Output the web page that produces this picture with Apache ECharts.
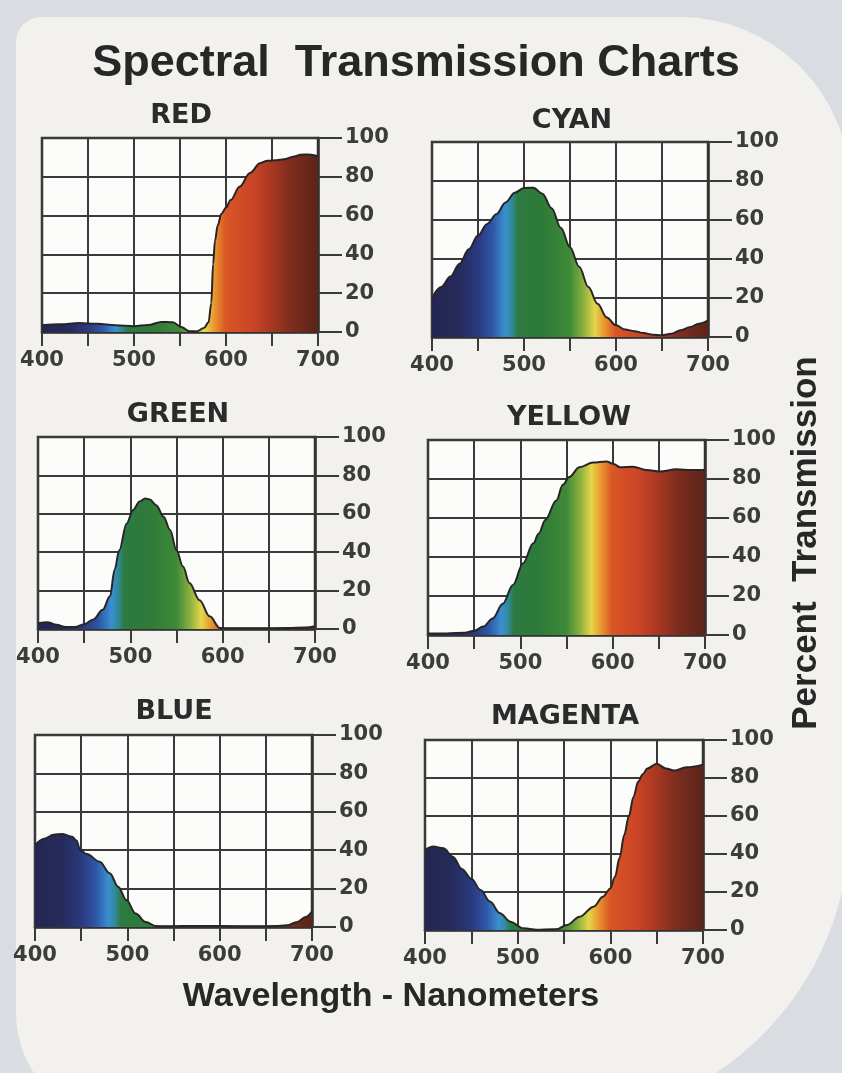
<!DOCTYPE html>
<html>
<head>
<meta charset="utf-8">
<script src="https://cdn.jsdelivr.net/npm/echarts@6/dist/echarts.min.js"></script>
<style>
  html, body { margin: 0; padding: 0; background: #d9dce0; }
  #chart { width: 842px; height: 1073px; }
</style>
</head>
<body>
<div id="chart"></div>
<script>
// ---- Tick labels ----
const wavelengthLabels = [400, 500, 600, 700];
const percentLabels = [0, 20, 40, 60, 80, 100];

// ---- Filter names ----
const filterNames = ['RED', 'CYAN', 'GREEN', 'YELLOW', 'BLUE', 'MAGENTA'];

// ---- Transmission curves: wavelength (nm) and percent transmission ----
const redNm  = [400, 420, 440, 460, 480, 500, 515, 530, 542, 552, 560, 568, 576, 581, 584, 586, 588, 591, 595, 600, 605, 615, 626, 637, 645, 655, 663, 674, 681, 690, 700];
const redPct = [3.5, 4, 4.6, 4.2, 3.5, 3, 3.6, 5.2, 5, 2.5, 0.4, 0.3, 2, 5, 15, 35, 47, 55, 61, 64, 68, 75, 82, 87, 88.3, 88.5, 89, 90.5, 91.4, 91.5, 90.5];

const cyanNm  = [400, 410, 420, 430, 440, 450, 460, 470, 480, 490, 500, 510, 520, 530, 540, 550, 560, 570, 580, 590, 600, 610, 620, 630, 640, 650, 660, 670, 680, 690, 700];
const cyanPct = [20, 25.6, 31, 37.6, 45, 52, 58, 63, 69, 74, 76.4, 76.6, 73.5, 66, 56, 46, 36, 25.6, 17, 10, 6, 3.8, 3, 2, 1.2, 0.9, 1.7, 3.4, 5, 6.8, 8.5];

const greenNm  = [400, 410, 420, 430, 440, 450, 460, 470, 478, 483, 488, 496, 503, 510, 516, 521, 528, 536, 543, 550, 557, 564, 575, 586, 597, 610, 640, 670, 690, 700];
const greenPct = [3, 3.5, 2.2, 1, 1, 2.5, 5, 10, 17, 31, 41, 55, 62, 66.4, 68, 67.5, 64.5, 58.5, 51.6, 41, 32.5, 24, 15, 6.6, 0.5, 0.4, 0.4, 0.5, 0.8, 1.5];

const yellowNm  = [400, 420, 440, 450, 460, 470, 481, 492, 503, 514, 520, 527, 539, 546, 553, 564, 579, 593, 601, 608, 622, 637, 651, 669, 685, 700];
const yellowPct = [0.8, 0.8, 1.2, 2.2, 4.3, 8.5, 16, 25.6, 36.8, 47, 52, 59, 69, 77, 81, 86, 88.4, 89, 87.7, 86, 86.3, 84.6, 83.8, 85, 84.6, 84.6];

const blueNm  = [400, 410, 420, 430, 440, 445, 449, 456, 470, 481, 490, 499, 509, 520, 531, 540, 560, 600, 640, 660, 673, 684, 693, 700];
const bluePct = [42.6, 46, 48, 48.5, 47, 45, 40, 38, 34, 28, 21, 14, 7, 2.6, 0.5, 0.4, 0.5, 0.5, 0.4, 0.5, 0.9, 2.6, 5.2, 8];

const magentaNm  = [400, 409, 420, 430, 440, 450, 460, 470, 481, 492, 506, 524, 542, 553, 567, 582, 592, 600, 605, 610, 615, 620, 625, 630, 635, 640, 650, 660, 669, 682, 700];
const magentaPct = [42, 43.9, 43, 38.6, 32, 27, 21, 15, 8.8, 4.4, 0.9, 0, 0.4, 2.6, 7, 12.3, 17.5, 21.9, 28, 38, 50, 60, 70, 78, 82, 85, 87.5, 85, 83.9, 85.6, 87];

const curves = [
  [redNm, redPct], [cyanNm, cyanPct], [greenNm, greenPct],
  [yellowNm, yellowPct], [blueNm, bluePct], [magentaNm, magentaPct]
];

// ---- Panel placement (plot rectangles and heading positions) ----
const panelBoxes = [
  { left: 42,  top: 138, width: 276, height: 194, tx: 181, ty: 116 },
  { left: 432, top: 142, width: 276, height: 195, tx: 572, ty: 121 },
  { left: 38,  top: 437, width: 277, height: 192, tx: 178, ty: 415 },
  { left: 428, top: 440, width: 277, height: 195, tx: 569, ty: 418 },
  { left: 35,  top: 735, width: 277, height: 192, tx: 174, ty: 712 },
  { left: 425, top: 740, width: 278, height: 190, tx: 565, ty: 717 }
];

// Visible-spectrum fill, mapped left (400 nm) to right (700 nm)
const spectrum = [
  [0.00, '#23264f'], [0.10, '#262b5c'], [0.17, '#2a3a80'], [0.22, '#2f56a8'],
  [0.265, '#3b8fd0'], [0.29, '#2f8a98'], [0.31, '#2d7a42'], [0.40, '#2e7a38'],
  [0.50, '#3f8a38'], [0.55, '#8db040'], [0.59, '#e6d64a'], [0.625, '#e8962f'],
  [0.665, '#d95625'], [0.76, '#cc4426'], [0.83, '#a93822'], [0.90, '#7f2d1f'],
  [1.00, '#5a2418']
];

const chart = echarts.init(document.getElementById('chart'), null, { renderer: 'canvas' });

const gridLine = '#3a3a3a';
const tickText = { color: '#3c3c3c', fontFamily: 'DejaVu Sans', fontWeight: 'bold', fontSize: 21 };

const grids = [], xAxes = [], yAxes = [], series = [];
panelBoxes.forEach((b, i) => {
  grids.push({
    left: b.left, top: b.top, width: b.width, height: b.height,
    show: true, backgroundColor: '#fcfcfa', borderColor: '#333', borderWidth: 2.5
  });
  xAxes.push({
    type: 'value', gridIndex: i, min: 400, max: 700, interval: 50,
    axisLine: { show: true, lineStyle: { color: '#333', width: 2.5 } },
    axisTick: { show: true, length: 14, lineStyle: { color: gridLine, width: 2 } },
    axisLabel: Object.assign({
      margin: 18,
      customValues: wavelengthLabels,
      formatter: v => (wavelengthLabels.indexOf(v) >= 0 ? String(v) : '')
    }, tickText),
    splitLine: { show: true, lineStyle: { color: gridLine, width: 2 } }
  });
  yAxes.push({
    type: 'value', gridIndex: i, position: 'right', min: 0, max: 100, interval: 20,
    axisLine: { show: true, lineStyle: { color: '#333', width: 2.5 } },
    axisTick: { show: true, length: 24, lineStyle: { color: gridLine, width: 2 } },
    axisLabel: Object.assign({ margin: 27, customValues: percentLabels }, tickText),
    splitLine: { show: true, lineStyle: { color: gridLine, width: 2 } }
  });
  const [nm, pct] = curves[i];
  series.push({
    name: filterNames[i], type: 'line', xAxisIndex: i, yAxisIndex: i,
    data: nm.map((w, k) => [w, pct[k]]),
    smooth: 0.35, smoothMonotone: 'x', showSymbol: false, silent: true,
    lineStyle: { color: '#262626', width: 2 },
    areaStyle: {
      opacity: 1,
      color: new echarts.graphic.LinearGradient(0, 0, 1, 0,
        spectrum.map(s => ({ offset: s[0], color: s[1] })))
    }
  });
});

const headings = panelBoxes.map((b, i) => ({
  type: 'text', x: b.tx, y: b.ty, silent: true,
  style: {
    text: filterNames[i], textAlign: 'center', textVerticalAlign: 'middle',
    fill: '#2b2b2b', font: 'bold 27px "DejaVu Sans"'
  }
}));

chart.setOption({
  animation: false,
  backgroundColor: '#d9dce0',
  grid: grids,
  xAxis: xAxes,
  yAxis: yAxes,
  series: series,
  graphic: [
    // card
    {
      type: 'rect', z: -10, silent: true,
      shape: { x: 16, y: 17, width: 834, height: 1106, r: [25, 170, 300, 110] },
      style: { fill: '#f2f1ed' }
    },
    {
      type: 'text', x: 416, y: 64, silent: true,
      style: {
        text: 'Spectral  Transmission Charts', textAlign: 'center', textVerticalAlign: 'middle',
        fill: '#272727', font: 'bold 45px "Liberation Sans"'
      }
    },
    {
      type: 'text', x: 391, y: 997, silent: true,
      style: {
        text: 'Wavelength - Nanometers', textAlign: 'center', textVerticalAlign: 'middle',
        fill: '#272727', font: 'bold 34px "Liberation Sans"'
      }
    },
    {
      type: 'text', x: 806, y: 543, rotation: Math.PI / 2, silent: true,
      style: {
        text: 'Percent  Transmission', textAlign: 'center', textVerticalAlign: 'middle',
        fill: '#272727', font: 'bold 35px "Liberation Sans"'
      }
    }
  ].concat(headings)
});
</script>
</body>
</html>
